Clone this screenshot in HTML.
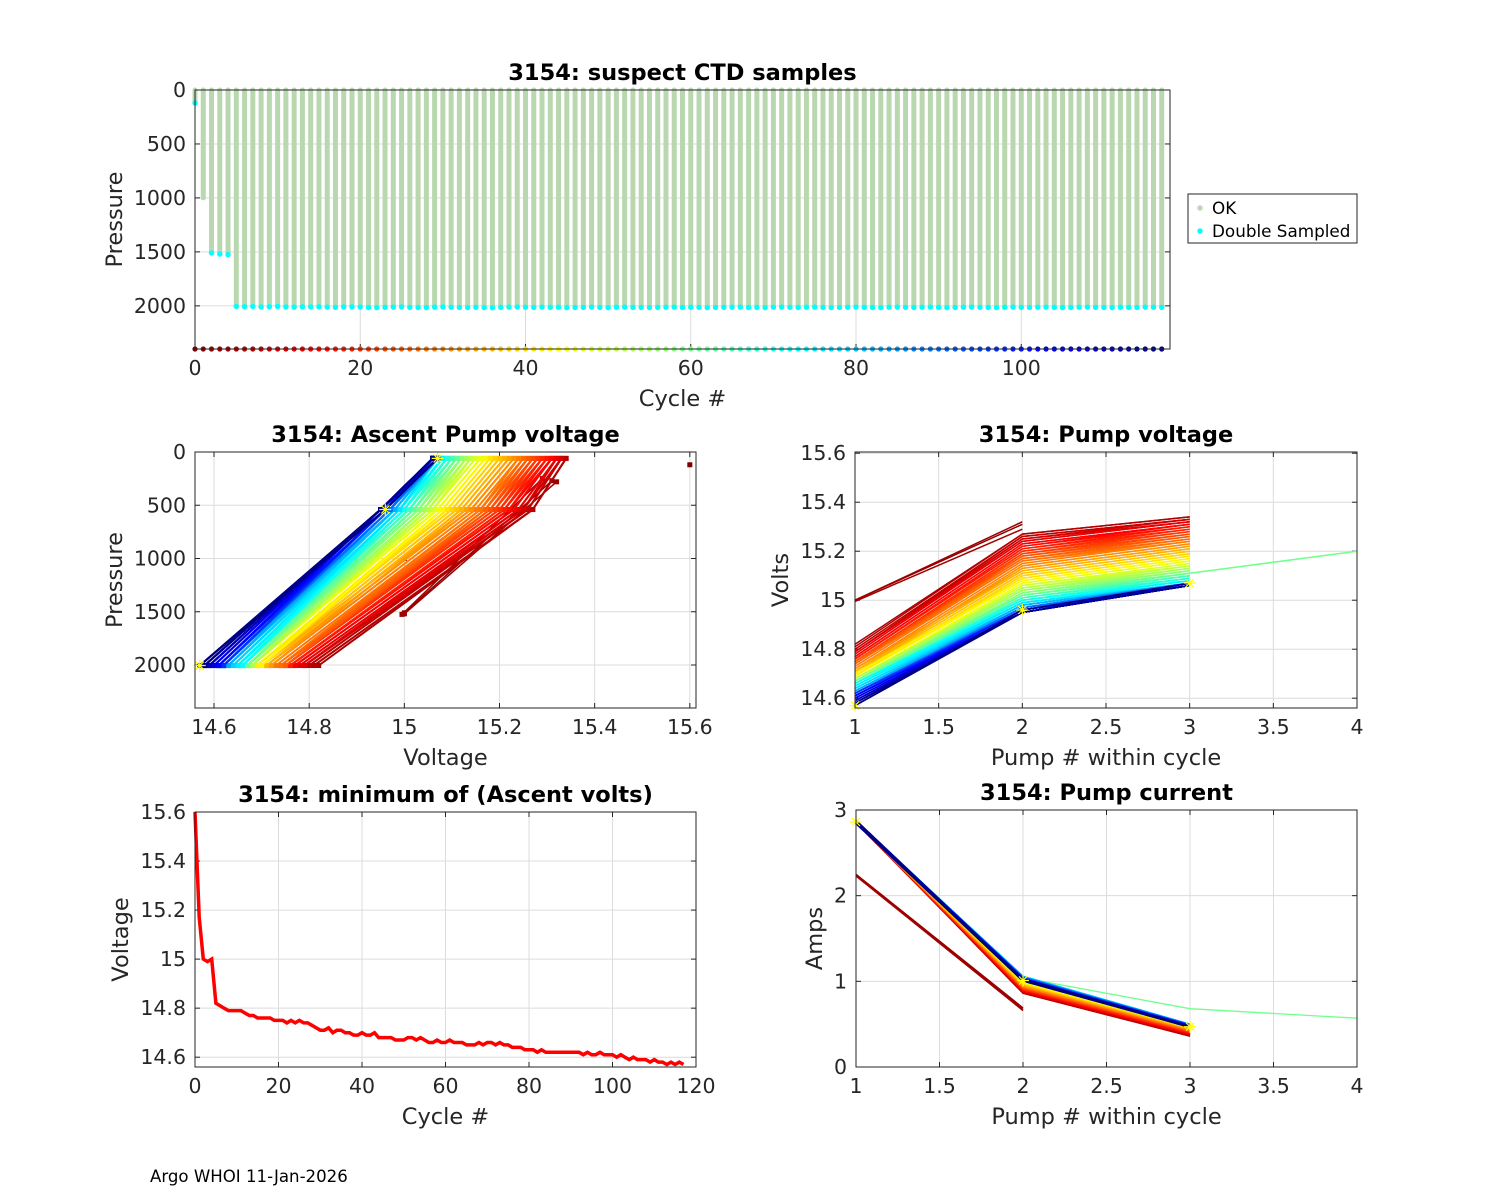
<!DOCTYPE html>
<html><head><meta charset="utf-8"><style>
body{margin:0;background:#fff;}
svg{display:block;font-family:"DejaVu Sans","Liberation Sans",sans-serif;}
</style></head><body>
<svg id="fig" width="1500" height="1200" viewBox="0 0 1500 1200" xmlns="http://www.w3.org/2000/svg">
<rect width="1500" height="1200" fill="#fff"/>
<text x="150" y="1182" font-size="16.6" fill="#000">Argo WHOI 11-Jan-2026</text>
</svg>
<script>
// ---------- data ----------
const cycles = Array.from({length:118},(_, i)=>i);
const maxPres = [120,1000,1510,1520,1525,
2005,2008,2006,2010,2008,2005,2010,2012,2009,2010,2008,2012,2014,2010,2009,2012,2015,2016,2014,2012,2010,2014,2015,2016,2012,2010,2013,2015,2016,2014,2016,2018,2014,2012,2010,2013,2015,2012,2014,2013,2016,2015,2014,2012,2015,2016,2013,2012,2014,2015,2016,2014,2013,2012,2015,2013,2014,2016,2015,2014,2013,2012,2015,2014,2016,2013,2012,2014,2015,2013,2012,2014,2016,2015,2013,2012,2014,2015,2016,2013,2012,2014,2015,2013,2012,2014,2016,2015,2013,2012,2014,2015,2016,2013,2012,2014,2015,2013,2012,2014,2016,2015,2013,2012,2014,2015,2016,2013,
2014,2015,2012,2013,2014];
const minVolts = [15.6,15.17,15.0,14.99,15.0,
14.82,14.81,14.80,14.79,14.79,14.79,14.79,14.78,14.77,14.77,
14.76,14.76,14.76,14.76,14.75,14.75,14.75,14.74,14.75,14.74,
14.75,14.74,14.74,14.73,14.72,14.71,14.71,14.72,14.70,14.71,
14.71,14.70,14.70,14.69,14.69,14.70,14.69,14.69,14.70,14.68,
14.68,14.68,14.68,14.67,14.67,14.67,14.68,14.68,14.67,14.68,
14.67,14.66,14.66,14.67,14.66,14.66,14.67,14.66,14.66,14.66,
14.65,14.65,14.65,14.66,14.65,14.66,14.66,14.65,14.66,14.65,
14.65,14.64,14.64,14.64,14.63,14.63,14.63,14.62,14.63,14.62,
14.62,14.62,14.62,14.62,14.62,14.62,14.62,14.62,14.61,14.62,
14.61,14.61,14.62,14.61,14.61,14.61,14.60,14.61,14.60,14.59,
14.60,14.59,14.59,14.59,14.58,14.59,14.58,14.58,14.57,14.58,
14.57,14.58,14.57];
const pump2Volts = [
15.27,15.27,15.26,15.26,15.25,15.25,15.24,15.24,15.23,15.23,
15.22,15.22,15.21,15.21,15.20,15.20,15.19,15.19,15.18,15.18,
15.17,15.17,15.16,15.16,15.15,15.14,15.14,15.13,15.13,15.12,
15.12,15.11,15.11,15.10,15.10,15.09,15.09,15.08,15.08,15.07,
15.07,15.07,15.06,15.06,15.06,15.05,15.05,15.05,15.04,15.04,
15.04,15.03,15.03,15.03,15.02,15.02,15.02,15.02,15.01,15.01,
15.01,15.01,15.00,15.00,15.00,15.00,15.00,14.99,14.99,14.99,
14.99,14.99,14.98,14.98,14.98,14.98,14.98,14.98,14.97,14.97,
14.97,14.97,14.97,14.97,14.97,14.97,14.96,14.96,14.96,14.96,
14.96,14.96,14.96,14.96,14.96,14.96,14.95,14.95,14.95,14.95,
14.95,14.95,14.95,14.95,14.95,14.95,14.95,14.95,14.95,14.95,
14.95,14.95,14.96];
const pump3Volts = [
15.34,15.34,15.33,15.33,15.33,15.32,15.32,15.32,15.31,15.31,
15.31,15.30,15.30,15.29,15.29,15.28,15.28,15.27,15.27,15.26,
15.26,15.25,15.25,15.24,15.24,15.23,15.23,15.22,15.22,15.21,
15.21,15.20,15.20,15.19,15.19,15.18,15.18,15.17,15.17,15.16,
15.16,15.16,15.15,15.15,15.14,15.14,15.14,15.13,15.13,15.13,
15.12,15.12,15.12,15.11,15.11,15.11,15.11,15.10,15.10,15.10,
15.10,15.09,15.09,15.09,15.09,15.08,15.08,15.08,15.08,15.08,
15.07,15.07,15.07,15.07,15.07,15.07,15.07,15.07,15.06,15.06,
15.06,15.07,15.06,15.06,15.07,15.06,15.06,15.06,15.07,15.06,
15.06,15.06,15.07,15.06,15.06,15.06,15.06,15.07,15.06,15.06,
15.06,15.06,15.06,15.07,15.06,15.06,15.06,15.06,15.06,15.06,
15.06,15.06,15.07];
const pump1Amps = [
2.86,2.86,2.85,2.86,2.87,2.86,2.85,2.86,2.86,2.87,2.86,2.85,2.86,2.86,2.87,2.86,2.85,2.86,2.86,2.87,
2.86,2.85,2.86,2.86,2.87,2.86,2.85,2.86,2.86,2.87,2.86,2.85,2.86,2.86,2.87,2.86,2.85,2.86,2.86,2.87,
2.86,2.85,2.86,2.86,2.87,2.86,2.85,2.86,2.86,2.87,2.86,2.85,2.86,2.86,2.87,2.86,2.85,2.86,2.86,2.87,
2.86,2.85,2.86,2.86,2.87,2.86,2.85,2.86,2.86,2.87,2.86,2.85,2.86,2.86,2.87,2.86,2.85,2.86,2.86,2.87,
2.86,2.85,2.86,2.86,2.87,2.86,2.85,2.86,2.86,2.87,2.86,2.85,2.86,2.86,2.87,2.86,2.85,2.86,2.86,2.87,
2.86,2.85,2.86,2.86,2.87,2.86,2.85,2.86,2.86,2.87,2.86,2.85,2.86];
const pump2Amps = [
0.86,0.86,0.87,0.87,0.87,0.88,0.88,0.88,0.89,0.89,
0.89,0.90,0.90,0.90,0.91,0.91,0.91,0.92,0.92,0.92,
0.93,0.93,0.93,0.94,0.94,0.94,0.95,0.95,0.95,0.96,
0.96,0.96,0.97,0.97,0.97,0.98,0.98,0.98,0.99,0.99,
0.99,1.00,1.00,1.00,1.01,1.01,1.01,1.02,1.02,1.02,
1.02,1.03,1.03,1.03,1.03,1.04,1.04,1.04,1.04,1.04,
1.05,1.05,1.05,1.05,1.05,1.05,1.05,1.06,1.06,1.06,
1.06,1.06,1.06,1.06,1.06,1.06,1.05,1.05,1.05,1.05,
1.05,1.05,1.04,1.04,1.04,1.04,1.04,1.04,1.03,1.03,
1.03,1.03,1.03,1.03,1.03,1.02,1.02,1.02,1.02,1.02,
1.02,1.02,1.02,1.02,1.02,1.02,1.02,1.02,1.02,1.02,
1.02,1.01,1.01];
const pump3Amps = [
0.36,0.36,0.37,0.37,0.37,0.38,0.38,0.38,0.39,0.39,
0.39,0.40,0.40,0.40,0.41,0.41,0.41,0.42,0.42,0.42,
0.42,0.43,0.43,0.43,0.43,0.44,0.44,0.44,0.44,0.45,
0.45,0.45,0.45,0.46,0.46,0.46,0.46,0.46,0.47,0.47,
0.47,0.47,0.47,0.48,0.48,0.48,0.48,0.48,0.48,0.49,
0.49,0.49,0.49,0.49,0.49,0.49,0.50,0.50,0.50,0.50,
0.50,0.50,0.50,0.50,0.50,0.50,0.50,0.50,0.50,0.50,
0.50,0.50,0.50,0.50,0.50,0.50,0.49,0.49,0.49,0.49,
0.49,0.49,0.49,0.49,0.49,0.49,0.49,0.48,0.48,0.48,
0.48,0.48,0.48,0.48,0.48,0.48,0.48,0.48,0.47,0.47,
0.47,0.47,0.47,0.47,0.47,0.47,0.47,0.47,0.47,0.47,
0.47,0.47,0.47];
const earlyCycles = [1,2,3,4];
const earlyV1 = [15.0,15.0,15.0,14.995];
const earlyV2 = [15.3,15.31,15.32,15.29];
const earlyA1 = [2.25,2.24,2.25,2.23];
const earlyA2 = [0.68,0.67,0.69,0.66];
const earlyP1 = [1000,1510,1520,1525];
const earlyP2 = [260,270,280,250];
const extraCycle = 60;
const extraV = [15.19,15.2];
const extraA = [0.68,0.57];
const ascentP1 = 2005, ascentP2 = 540, ascentP3 = 60;
const pumpTicks = [1,1.5,2,2.5,3,3.5,4];
const pumpTickLabels = ['1','1.5','2','2.5','3','3.5','4'];
const voltTicks = [14.6,14.8,15,15.2,15.4,15.6];
const voltTickLabels = ['14.6','14.8','15','15.2','15.4','15.6'];
const presTicks = [0,500,1000,1500,2000];
const cycleTicks = [0,20,40,60,80,100];
const cycleTicks2 = [0,20,40,60,80,100,120];
const ampTicks = [0,1,2,3];

// ---------- helpers ----------
const NS='http://www.w3.org/2000/svg';
const svg=document.getElementById('fig');
function mk(tag, attrs, parent){const e=document.createElementNS(NS,tag);for(const k in attrs)e.setAttribute(k,attrs[k]);(parent||svg).appendChild(e);return e;}
function clamp(v){return Math.max(0,Math.min(1,v));}
function jet(c){const t=1-c/117;const r=clamp(1.5-Math.abs(4*t-3)),g=clamp(1.5-Math.abs(4*t-2)),b=clamp(1.5-Math.abs(4*t-1));return 'rgb('+Math.round(r*255)+','+Math.round(g*255)+','+Math.round(b*255)+')';}
function lin(d0,d1,r0,r1){return v=>r0+(v-d0)/(d1-d0)*(r1-r0);}

function axes(o){
  const g=mk('g',{});
  
  
  const sx=lin(o.xmin,o.xmax,o.x0,o.x1), sy=lin(o.ymin,o.ymax,o.ya,o.yb);
  const bg=mk('rect',{x:o.x0,y:o.y0,width:o.x1-o.x0,height:o.y1-o.y0,fill:'#fff'},g);
  
  
  const grid=mk('g',{stroke:'#dcdcdc','stroke-width':1},g);
  
  
  o.xt.forEach((v,i)=>{
    const x=sx(v);
    if(o.grid)mk('line',{x1:x,x2:x,y1:o.y0,y2:o.y1},grid);
    const t=mk('line',{x1:x,x2:x,y1:o.y1,y2:o.y1-5,stroke:'#262626'},g);
    
    
    const t2=mk('line',{x1:x,x2:x,y1:o.y0,y2:o.y0+5,stroke:'#262626'},g);
    
    
    const l=mk('text',{x:x,y:o.y1+26,'font-size':20.5,'text-anchor':'middle',fill:'#262626'},g);
    l.textContent=o.xl[i];
    
    
  });
  o.yt.forEach((v,i)=>{
    const y=sy(v);
    if(o.grid)mk('line',{x1:o.x0,x2:o.x1,y1:y,y2:y},grid);
    const t=mk('line',{x1:o.x0,x2:o.x0+5,y1:y,y2:y,stroke:'#262626'},g);
    
    
    const t2=mk('line',{x1:o.x1,x2:o.x1-5,y1:y,y2:y,stroke:'#262626'},g);
    
    
    const l=mk('text',{x:o.x0-9,y:y+7,'font-size':20.5,'text-anchor':'end',fill:'#262626'},g);
    l.textContent=o.yl[i];
    
    
  });
  const plot=mk('g',{},g);
  
  
  const box=mk('rect',{x:o.x0,y:o.y0,width:o.x1-o.x0,height:o.y1-o.y0,fill:'none',stroke:'#262626','stroke-width':1},svg);
  
  
  const ti=mk('text',{x:(o.x0+o.x1)/2,y:o.y0-10,'font-size':22.5,'font-weight':'bold','text-anchor':'middle',fill:'#000'},svg);
  ti.textContent=o.title;
  
  
  const xl=mk('text',{x:(o.x0+o.x1)/2,y:o.y1+57,'font-size':22.5,'text-anchor':'middle',fill:'#262626'},svg);
  xl.textContent=o.xlabel;
  
  
  const yx=o.ylx, yy=(o.y0+o.y1)/2;
  const yl=mk('text',{x:yx,y:yy,'font-size':22.5,'text-anchor':'middle',fill:'#262626',transform:'rotate(-90 '+yx+' '+yy+')'},svg);
  yl.textContent=o.ylabel;
  
  
  return {sx,sy,plot};
}
function poly(parent,pts,color,w){
  return mk('polyline',{points:pts.map(q=>q[0].toFixed(1)+','+q[1].toFixed(1)).join(' '),fill:'none',stroke:color,'stroke-width':w||1},parent);
}
function star(parent,x,y){
  return mk('path',{d:`M${x-6},${y}H${x+6}M${x},${y-6}V${y+6}M${x-4},${y-4}L${x+4},${y+4}M${x-4},${y+4}L${x+4},${y-4}`,stroke:'#ff0',fill:'none','stroke-width':1.2},parent);
}

// ---------- chart 1 ----------
(function(){
  const A=axes({name:'suspect-ctd-chart',x0:195,x1:1170,y0:90,y1:349,xmin:0,xmax:118,ymin:0,ymax:2400,ya:90,yb:349,
    xt:cycleTicks,xl:cycleTicks.map(String),yt:presTicks,yl:presTicks.map(String),grid:true,
    title:'3154: suspect CTD samples',xlabel:'Cycle #',ylabel:'Pressure',ylx:122});
  cycles.forEach(c=>{
    const x=A.sx(c);
    const b=mk('line',{x1:x,x2:x,y1:A.sy(0),y2:A.sy(maxPres[c]),stroke:'#b9d8b0','stroke-width':5,'stroke-linecap':'round'},A.plot);
    
    
  });
  cycles.forEach(c=>{
    if(c===1)return;
    const d=mk('circle',{cx:A.sx(c),cy:A.sy(maxPres[c]),r:2.7,fill:'#00ffff'},A.plot);
    
    
  });
  cycles.forEach(c=>{
    const d=mk('circle',{cx:A.sx(c),cy:A.sy(2400),r:2.6,fill:jet(c)},A.plot);
    
    
  });
  const lg=mk('g',{});
  
  
  mk('rect',{x:1188,y:194,width:169,height:49,fill:'#fff',stroke:'#262626'},lg);
  const e1=mk('circle',{cx:1200,cy:208,r:2.7,fill:'#b9d8b0'},lg);
  
  
  const t1=mk('text',{x:1212,y:214,'font-size':16.8,fill:'#000'},lg);t1.textContent='OK';
  
  
  const e2=mk('circle',{cx:1200,cy:231,r:2.7,fill:'#00ffff'},lg);
  
  
  const t2=mk('text',{x:1212,y:237,'font-size':16.8,fill:'#000'},lg);t2.textContent='Double Sampled';
  
  
})();

// ---------- chart 2 ----------
(function(){
  const xt=[14.6,14.8,15,15.2,15.4,15.6];
  const A=axes({name:'ascent-pump-voltage-chart',x0:195,x1:696,y0:452,y1:708,xmin:14.56,xmax:15.613,ymin:0,ymax:2400,ya:452,yb:707.6,
    xt:xt,xl:['14.6','14.8','15','15.2','15.4','15.6'],yt:presTicks,yl:presTicks.map(String),grid:true,
    title:'3154: Ascent Pump voltage',xlabel:'Voltage',ylabel:'Pressure',ylx:122});
  const d0=mk('rect',{x:A.sx(minVolts[0])-2.5,y:A.sy(maxPres[0])-2.5,width:5,height:5,fill:jet(0)},A.plot);
  
  
  earlyCycles.forEach((c,i)=>{
    const pts=[[A.sx(earlyV1[i]),A.sy(earlyP1[i])]];
    if(c>1)pts.push([A.sx(earlyV2[i]),A.sy(earlyP2[i])]);
    const l=poly(A.plot,pts,jet(c),1.5);
    
    
    pts.forEach(p=>{const m=mk('rect',{x:p[0]-2.5,y:p[1]-2.5,width:5,height:5,fill:jet(c)},A.plot);
      
      });
  });
  for(let c=5;c<118;c++){
    const k=c-5;
    const pts=[[A.sx(minVolts[c]),A.sy(ascentP1)],[A.sx(pump2Volts[k]),A.sy(ascentP2)],[A.sx(pump3Volts[k]),A.sy(ascentP3)]];
    const l=poly(A.plot,pts,jet(c),2);
    
    
    pts.forEach(p=>{const m=mk('rect',{x:p[0]-2.5,y:p[1]-2.5,width:5,height:5,fill:jet(c)},A.plot);
      
      });
  }
  [[minVolts[117],ascentP1],[pump2Volts[112],ascentP2],[pump3Volts[112],ascentP3]].forEach(p=>{
    const s=star(A.plot,A.sx(p[0]),A.sy(p[1]));
    
    
  });
})();

// ---------- chart 3 ----------
(function(){
  const A=axes({name:'pump-voltage-chart',x0:855,x1:1357,y0:452,y1:708,xmin:1,xmax:4,ymin:14.56,ymax:15.605,ya:708,yb:452,
    xt:pumpTicks,xl:pumpTickLabels,yt:voltTicks,yl:voltTickLabels,grid:true,
    title:'3154: Pump voltage',xlabel:'Pump # within cycle',ylabel:'Volts',ylx:788});
  earlyCycles.forEach((c,i)=>{
    if(c<2)return;
    const l=poly(A.plot,[[A.sx(1),A.sy(earlyV1[i])],[A.sx(2),A.sy(earlyV2[i])]],jet(c),1.5);
    
    
  });
  for(let c=5;c<118;c++){
    const k=c-5;
    const pts=[[A.sx(1),A.sy(minVolts[c])],[A.sx(2),A.sy(pump2Volts[k])],[A.sx(3),A.sy(pump3Volts[k])]];
    if(c===extraCycle)pts.push([A.sx(4),A.sy(extraV[1])]);
    const l=poly(A.plot,pts,jet(c),1.5);
    
    
  }
  [[1,minVolts[117]],[2,pump2Volts[112]],[3,pump3Volts[112]]].forEach(p=>{
    const s=star(A.plot,A.sx(p[0]),A.sy(p[1]));
    
    
  });
})();

// ---------- chart 4 ----------
(function(){
  const A=axes({name:'min-ascent-volts-chart',x0:195,x1:696,y0:812,y1:1067,xmin:0,xmax:120,ymin:14.56,ymax:15.6,ya:1067,yb:812,
    xt:cycleTicks2,xl:cycleTicks2.map(String),yt:voltTicks,yl:voltTickLabels,grid:true,
    title:'3154: minimum of (Ascent volts)',xlabel:'Cycle #',ylabel:'Voltage',ylx:128});
  const l=poly(A.plot,cycles.map(c=>[A.sx(c),A.sy(minVolts[c])]),'#ff0000',3.5);
  
  
})();

// ---------- chart 5 ----------
(function(){
  const A=axes({name:'pump-current-chart',x0:856,x1:1357,y0:810,y1:1067,xmin:1,xmax:4,ymin:0,ymax:3,ya:1067,yb:810,
    xt:pumpTicks,xl:pumpTickLabels,yt:ampTicks,yl:ampTicks.map(String),grid:true,
    title:'3154: Pump current',xlabel:'Pump # within cycle',ylabel:'Amps',ylx:822});
  earlyCycles.forEach((c,i)=>{
    if(c<2)return;
    const l=poly(A.plot,[[A.sx(1),A.sy(earlyA1[i])],[A.sx(2),A.sy(earlyA2[i])]],jet(c),1.5);
    
    
  });
  for(let c=5;c<118;c++){
    const k=c-5;
    const pts=[[A.sx(1),A.sy(pump1Amps[k])],[A.sx(2),A.sy(pump2Amps[k])],[A.sx(3),A.sy(pump3Amps[k])]];
    if(c===extraCycle){pts[2]=[A.sx(3),A.sy(extraA[0])];pts.push([A.sx(4),A.sy(extraA[1])]);}
    const l=poly(A.plot,pts,jet(c),c>90?2.5:1.3);
    
    
  }
  [[1,pump1Amps[112]],[2,pump2Amps[112]],[3,pump3Amps[112]]].forEach(p=>{
    const s=star(A.plot,A.sx(p[0]),A.sy(p[1]));
    
    
  });
})();
</script>
</body></html>
